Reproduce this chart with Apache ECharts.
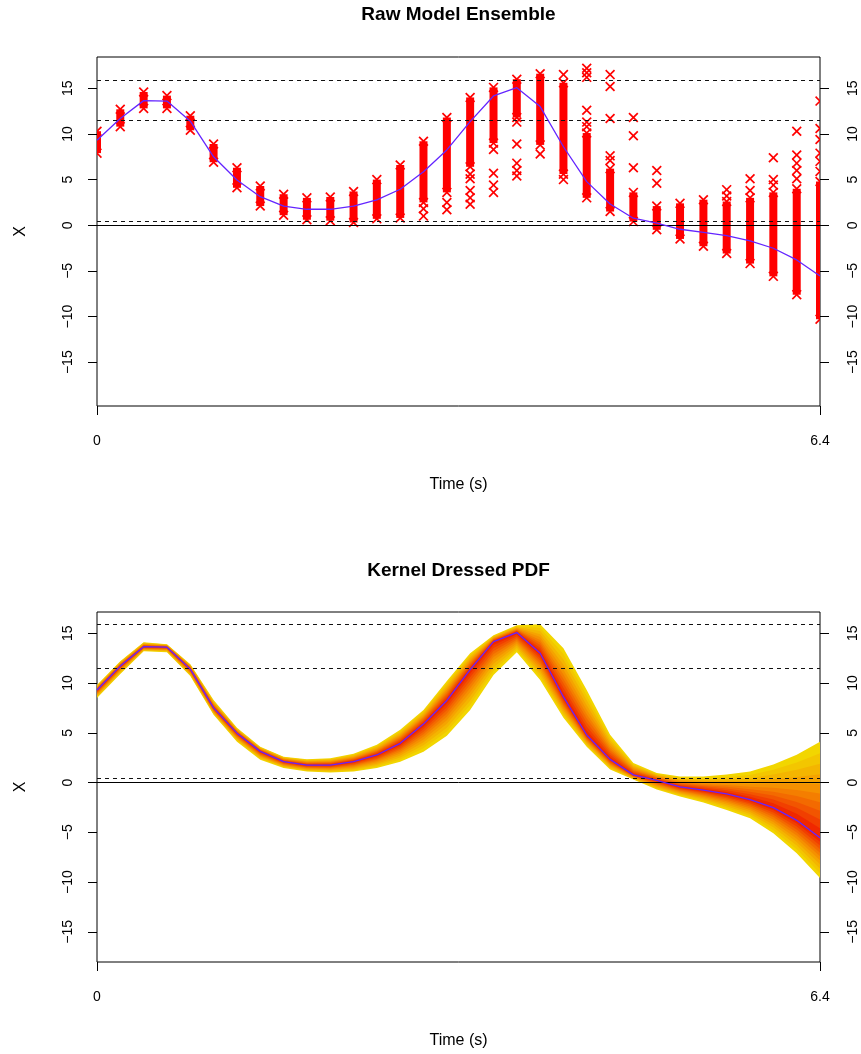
<!DOCTYPE html>
<html>
<head>
<meta charset="utf-8">
<script src="https://cdn.jsdelivr.net/npm/echarts@6/dist/echarts.min.js"></script>
<style>
html,body{margin:0;padding:0;background:#fff;}
#chart{width:861px;height:1054px;}
</style>
</head>
<body>
<div id="chart"></div>
<script>
// ---- data ----
const times = [0, 0.206, 0.413, 0.619, 0.826, 1.032, 1.239, 1.445, 1.652, 1.858, 2.065, 2.271, 2.477, 2.684, 2.890, 3.097, 3.303, 3.510, 3.716, 3.923, 4.129, 4.335, 4.542, 4.748, 4.955, 5.161, 5.368, 5.574, 5.781, 5.987, 6.194, 6.4];
const ensMean = [9.3, 11.7, 13.65, 13.6, 11.4, 7.5, 4.96, 3.13, 2.1, 1.75, 1.75, 2.1, 2.77, 3.94, 5.87, 8.25, 11.35, 14.16, 15.07, 13.0, 8.6, 4.78, 2.33, 0.77, 0.22, -0.44, -0.77, -1.14, -1.72, -2.52, -3.8, -5.55];
const denseLo = [7.9, 10.8, 12.8, 12.8, 10.4, 6.9, 4.1, 2.1, 1.1, 0.6, 0.5, 0.3, 0.7, 0.8, 2.5, 3.6, 6.4, 9.0, 11.8, 8.8, 5.6, 3.0, 1.5, 0.4, -0.5, -1.5, -2.3, -3.1, -4.2, -5.6, -7.6, -10.3];
const denseHi = [10.3, 12.7, 14.6, 14.2, 12.0, 8.9, 6.3, 4.3, 3.4, 3.0, 3.1, 3.7, 5.0, 6.6, 9.2, 11.8, 14.0, 15.1, 16.0, 16.6, 15.6, 10.1, 6.2, 3.6, 2.1, 2.4, 2.8, 2.6, 3.0, 3.6, 4.0, 4.8];
// [time index, value] of isolated ensemble members
const outlierPoints = [
  [14, 1.8], [14, 1.0],
  [15, 2.5], [15, 1.7],
  [16, 5.6], [16, 5.1], [16, 3.8], [16, 3.0], [16, 2.3],
  [17, 8.3], [17, 5.7], [17, 4.4], [17, 3.6],
  [18, 11.3], [18, 8.9], [18, 6.8], [18, 6.0], [18, 5.4],
  [19, 7.8],
  [20, 16.5], [20, 5.0],
  [21, 17.2], [21, 16.7], [21, 16.2], [21, 12.6], [21, 11.3], [21, 10.8],
  [22, 16.5], [22, 15.2], [22, 11.7], [22, 7.6], [22, 7.1],
  [23, 11.8], [23, 9.8], [23, 6.3],
  [24, 6.0], [24, 4.6],
  [27, 3.9], [27, 3.2],
  [28, 5.1], [28, 3.8],
  [29, 7.4], [29, 5.0], [29, 4.4],
  [30, 10.3], [30, 7.7], [30, 6.8], [30, 6.0], [30, 5.1],
  [31, 13.6], [31, 10.6], [31, 9.4], [31, 7.9], [31, 7.0], [31, 5.9]
];
const pdfUpper = [9.8, 12.2, 14.1, 13.9, 11.9, 8.3, 5.5, 3.6, 2.6, 2.35, 2.45, 2.9, 3.8, 5.3, 7.3, 10.2, 13.0, 14.8, 15.8, 15.9, 13.5, 9.3, 4.8, 1.95, 0.95, 0.6, 0.6, 0.8, 1.1, 1.8, 2.8, 4.1];
const pdfLower = [8.5, 10.9, 13.2, 13.1, 10.7, 6.8, 4.1, 2.3, 1.45, 1.1, 1.0, 1.1, 1.45, 2.1, 3.1, 4.7, 7.3, 10.8, 13.1, 10.3, 6.5, 3.6, 1.3, 0.3, -0.7, -1.4, -2.0, -2.75, -3.6, -5.1, -7.1, -9.6];
const refDashed = [15.9, 11.5, 0.4];
const yTicks = [-15, -10, -5, 0, 5, 10, 15];
const xTicks = [0, 6.4];
const xTickLabels = ['0', '6.4'];
const titles = ['Raw Model Ensemble', 'Kernel Dressed PDF'];
// ---- style ----
const layerFrac = [1.0, 0.88, 0.77, 0.66, 0.56, 0.46, 0.37, 0.28, 0.19, 0.10];
const layerColors = ['#F2D600', '#F3C600', '#F4B500', '#F5A300', '#F59100', '#F47E00', '#F36A00', '#F25500', '#F13F00', '#F02800'];
const FONT = 'Liberation Sans, Arial, Helvetica, sans-serif';
const LINE_COLOR = '#6425FF';

const fmt = v => (v < 0 ? '\u2212' + Math.abs(v) : String(v));

function xAx(gi) {
  return {
    type: 'value', gridIndex: gi, min: 0, max: 6.4,
    axisLine: { show: false, onZero: false }, splitLine: { show: false },
    axisTick: { show: true, length: 9, customValues: xTicks, lineStyle: { color: '#000', width: 1 } },
    axisLabel: { customValues: xTicks, margin: 28, fontSize: 14, color: '#000', fontFamily: FONT,
      formatter: v => xTickLabels[xTicks.indexOf(v)] !== undefined ? xTickLabels[xTicks.indexOf(v)] : String(v) },
    name: 'Time (s)', nameLocation: 'middle', nameGap: 71,
    nameTextStyle: { fontSize: 16, color: '#000', fontFamily: FONT }
  };
}
function yAx(gi, pos, min, max) {
  const left = pos === 'left';
  return {
    type: 'value', gridIndex: gi, position: pos, min: min, max: max,
    axisLine: { show: false, onZero: false }, splitLine: { show: false },
    axisTick: { show: true, length: 9, customValues: yTicks, lineStyle: { color: '#000', width: 1 } },
    axisLabel: { rotate: 90, customValues: yTicks, margin: left ? 22 : 26, fontSize: 14, color: '#000', fontFamily: FONT, formatter: fmt },
    name: left ? 'X' : '', nameLocation: 'middle', nameGap: 68, nameRotate: 90,
    nameTextStyle: { fontSize: 16, color: '#000', fontFamily: FONT }
  };
}

function refLines(xi, yi) {
  const data = refDashed.map(v => ({ yAxis: v, lineStyle: { type: [4, 4], color: '#111', width: 1 } }));
  data.push({ yAxis: 0, lineStyle: { type: 'solid', color: '#000', width: 1 } });
  return {
    type: 'line', xAxisIndex: xi, yAxisIndex: yi, data: [], z: 5,
    markLine: { silent: true, symbol: ['none', 'none'], label: { show: false }, animation: false, data: data }
  };
}

// ensemble columns + outlier crosses
function drawCross(cx, cy, h) {
  return [
    { type: 'line', shape: { x1: cx - h, y1: cy - h, x2: cx + h, y2: cy + h }, style: { stroke: '#FF0000', lineWidth: 1.7 } },
    { type: 'line', shape: { x1: cx - h, y1: cy + h, x2: cx + h, y2: cy - h }, style: { stroke: '#FF0000', lineWidth: 1.7 } }
  ];
}
const ensembleSeries = {
  type: 'custom', xAxisIndex: 0, yAxisIndex: 0, clip: true, z: 3,
  data: times.map((t, i) => [t, ensMean[i], i]),
  renderItem: function (params, api) {
    const i = api.value(2);
    const t = times[i];
    const pHi = api.coord([t, denseHi[i]]);
    const pLo = api.coord([t, denseLo[i]]);
    const cx = pHi[0];
    const children = [{ type: 'rect', shape: { x: cx - 4, y: pHi[1], width: 8, height: pLo[1] - pHi[1] }, style: { fill: '#FF0000' } }];
    children.push(...drawCross(cx, pHi[1], 4.4));
    children.push(...drawCross(cx, pLo[1], 4.4));
    outlierPoints.forEach(o => {
      if (o[0] === i) {
        const p = api.coord([t, o[1]]);
        children.push(...drawCross(cx, p[1], 4.4));
      }
    });
    return { type: 'group', children: children };
  }
};

const bandSeries = {
  type: 'custom', xAxisIndex: 1, yAxisIndex: 2, clip: true, z: 2,
  data: [[0, 0]],
  renderItem: function (params, api) {
    const children = layerFrac.map((f, k) => {
      const pts = [];
      for (let i = 0; i < times.length; i++) {
        pts.push(api.coord([times[i], ensMean[i] + f * (pdfUpper[i] - ensMean[i])]));
      }
      for (let i = times.length - 1; i >= 0; i--) {
        pts.push(api.coord([times[i], ensMean[i] + f * (pdfLower[i] - ensMean[i])]));
      }
      return { type: 'polygon', shape: { points: pts }, style: { fill: layerColors[k] } };
    });
    return { type: 'group', children: children };
  }
};

const meanLine = (xi, yi) => ({
  type: 'line', xAxisIndex: xi, yAxisIndex: yi, z: 10, symbol: 'none', animation: false,
  data: times.map((t, i) => [t, ensMean[i]]),
  lineStyle: { color: LINE_COLOR, width: 1.3 }
});

const chart = echarts.init(document.getElementById('chart'), null, { renderer: 'canvas' });
chart.setOption({
  animation: false,
  backgroundColor: '#fff',
  graphic: [
    { type: 'text', x: 458.5, y: 15, style: { text: titles[0], font: 'bold 19px ' + FONT, fill: '#000', textAlign: 'center', textVerticalAlign: 'middle' } },
    { type: 'text', x: 458.5, y: 571, style: { text: titles[1], font: 'bold 19px ' + FONT, fill: '#000', textAlign: 'center', textVerticalAlign: 'middle' } }
  ],
  grid: [
    { left: 97, right: 41, top: 57, height: 349, show: true, borderColor: '#000', borderWidth: 1, backgroundColor: 'transparent' },
    { left: 97, right: 41, top: 612, height: 350, show: true, borderColor: '#000', borderWidth: 1, backgroundColor: 'transparent' }
  ],
  xAxis: [xAx(0), xAx(1)],
  yAxis: [
    yAx(0, 'left', -19.8, 18.43), yAx(0, 'right', -19.8, 18.43),
    yAx(1, 'left', -18.04, 17.14), yAx(1, 'right', -18.04, 17.14)
  ],
  series: [
    ensembleSeries,
    refLines(0, 0),
    meanLine(0, 0),
    bandSeries,
    refLines(1, 2),
    meanLine(1, 2)
  ]
});
</script>
</body>
</html>
